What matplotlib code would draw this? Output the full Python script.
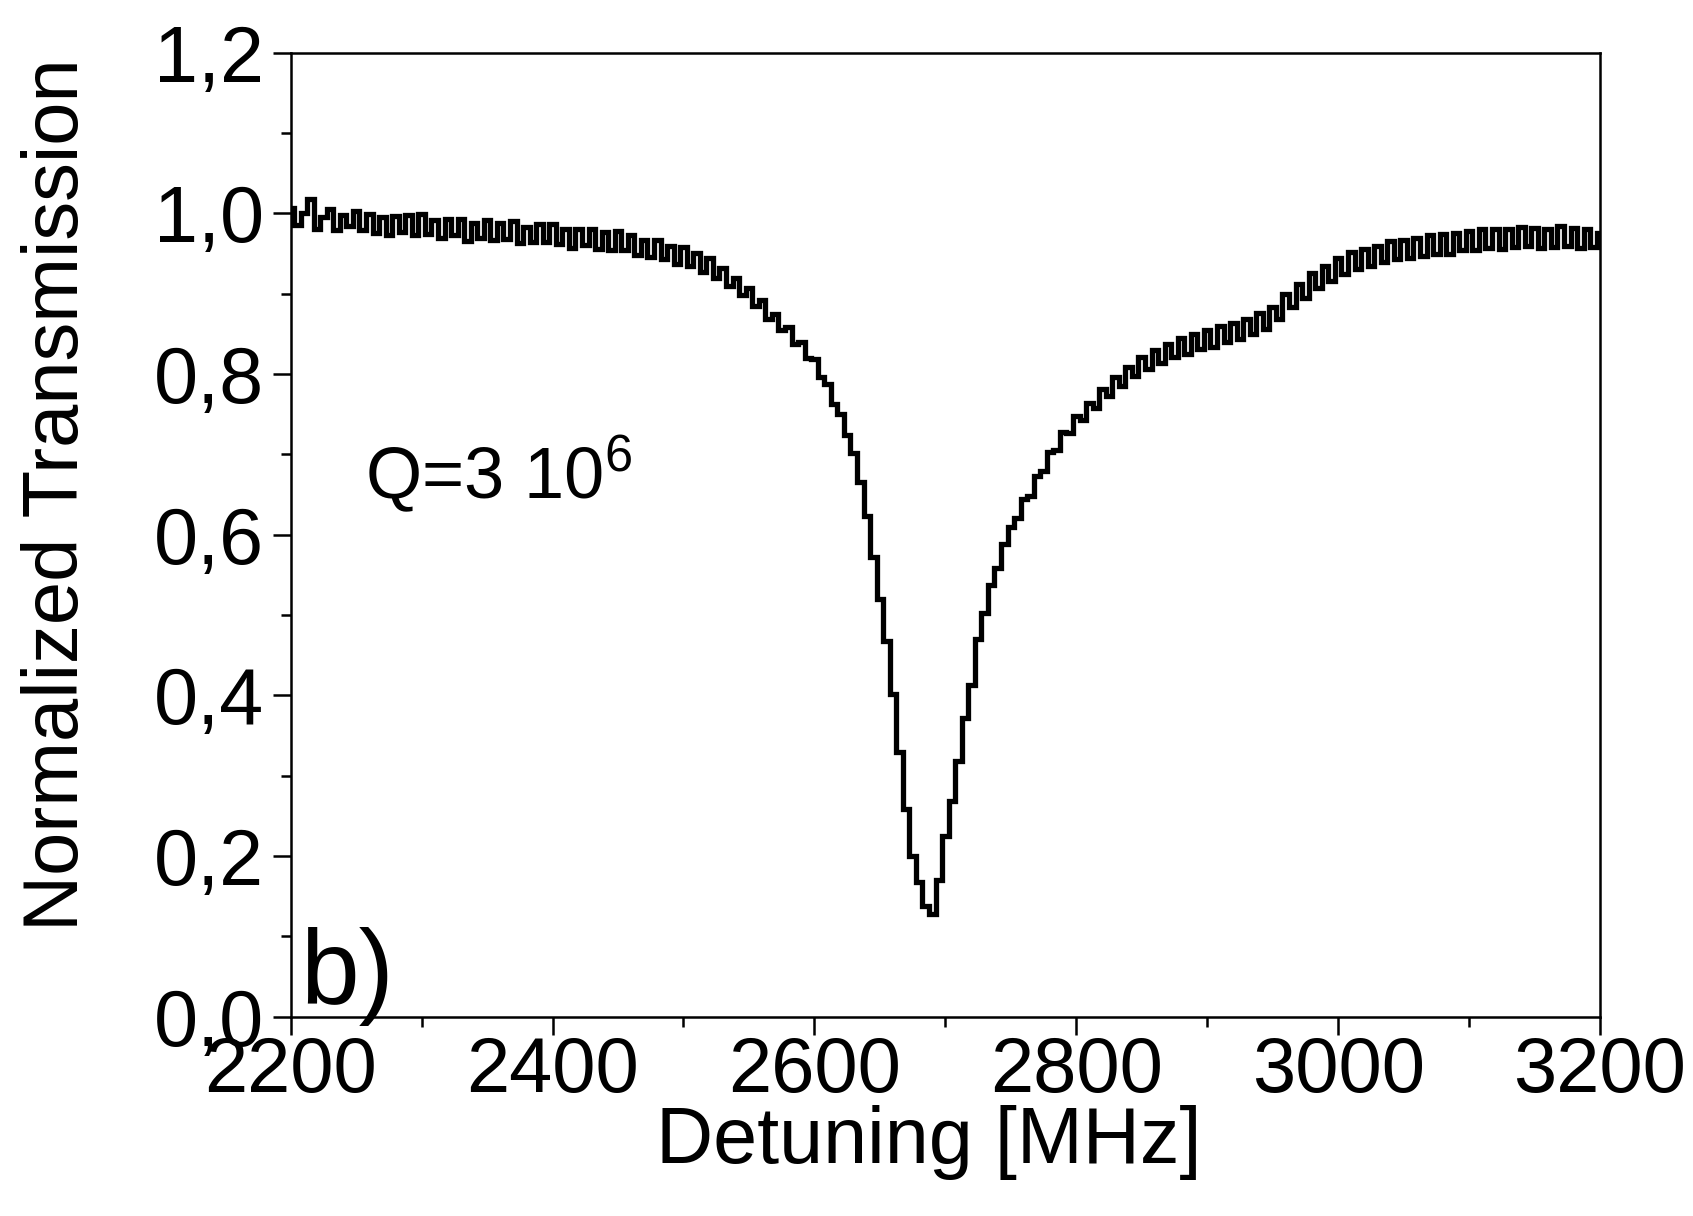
import numpy as np
import matplotlib
matplotlib.use("Agg")
import matplotlib.pyplot as plt
from matplotlib.ticker import MultipleLocator, FuncFormatter

# ---- data ----
detuning_start = 2200
detuning_step = 5
transmission = [
    1.007, .985, 1.000, 1.018, .980, .995, 1.006, .979, .998, .984,
    1.003, .979, .999, .976, .996, .973, .997, .977, .998, .973,
    .999, .974, .992, .969, .993, .973, .993, .965, .988, .969,
    .992, .967, .988, .968, .990, .963, .983, .964, .987, .964,
    .987, .962, .981, .957, .981, .961, .981, .956, .977, .954,
    .978, .954, .973, .948, .967, .946, .967, .943, .959, .937,
    .958, .934, .951, .927, .944, .919, .932, .909, .920, .898,
    .907, .885, .892, .869, .875, .855, .859, .838, .840, .820,
    .819, .796, .787, .763, .750, .724, .702, .665, .623, .572,
    .520, .468, .402, .330, .258, .200, .168, .138, .128, .170,
    .225, .268, .318, .372, .413, .470, .503, .537, .558, .588,
    .609, .621, .645, .648, .673, .679, .703, .705, .728, .727,
    .748, .743, .764, .758, .781, .773, .796, .785, .809, .797,
    .821, .806, .830, .814, .838, .821, .845, .825, .850, .831,
    .855, .834, .860, .840, .863, .843, .868, .850, .876, .856,
    .884, .869, .900, .883, .912, .895, .926, .907, .935, .916,
    .944, .924, .952, .931, .956, .934, .960, .939, .965, .943,
    .967, .944, .969, .947, .973, .950, .974, .949, .976, .954,
    .978, .955, .981, .957, .980, .956, .980, .958, .983, .959,
    .982, .957, .981, .958, .984, .959, .982, .957, .981, .958,
    .975,
]
detuning = [detuning_start + detuning_step * i for i in range(len(transmission))]

x_ticks = [2200, 2400, 2600, 2800, 3000, 3200]
y_ticks = [0.0, 0.2, 0.4, 0.6, 0.8, 1.0, 1.2]
x_label = "Detuning [MHz]"
y_label = "Normalized Transmission"
q_text = r"Q=3 10$^{\mathrm{6}}$"
panel_text = "b)"

# ---- style ----
plt.rcParams['font.family'] = ['Liberation Sans', 'DejaVu Sans']
plt.rcParams['mathtext.fontset'] = 'custom'
plt.rcParams['mathtext.rm'] = 'Liberation Sans'
plt.rcParams['mathtext.it'] = 'Liberation Sans:italic'

W, H = 1693, 1216
fig = plt.figure(figsize=(W / 100, H / 100), dpi=100)
ax = fig.add_axes([290.7 / W, 1 - 1016.7 / H, (1600 - 290.7) / W, (1016.7 - 52.7) / H])

ax.plot(detuning, transmission, color='black', lw=3.8, drawstyle='steps-mid',
        solid_joinstyle='miter')

ax.set_xlim(2200, 3200)
ax.set_ylim(0.0, 1.2)
ax.set_xticks(x_ticks)
ax.set_yticks(y_ticks)
ax.xaxis.set_minor_locator(MultipleLocator(100))
ax.yaxis.set_minor_locator(MultipleLocator(0.1))
ax.yaxis.set_major_formatter(FuncFormatter(lambda v, p: f"{v:.1f}".replace('.', ',')))

for s in ax.spines.values():
    s.set_linewidth(1.8)
ax.tick_params(axis='both', which='major', direction='out', length=13, width=1.8,
               top=False, right=False)
ax.tick_params(axis='both', which='minor', direction='out', length=7, width=1.8,
               top=False, right=False)
ax.tick_params(axis='x', which='major', labelsize=56, pad=0)
ax.tick_params(axis='y', which='major', labelsize=57, pad=6)

fig.text(929 / W, 1 - 1142 / H, x_label, fontsize=57, ha='center', va='center')
fig.text(58 / W, 1 - 495 / H, y_label, fontsize=56, ha='center', va='center',
         rotation=90)

ax.text(2257, 0.645, q_text, fontsize=52, ha='left', va='baseline')
ax.text(2207, 0.016, panel_text, fontsize=76, ha='left', va='baseline')

fig.savefig("out.png", dpi=100)
